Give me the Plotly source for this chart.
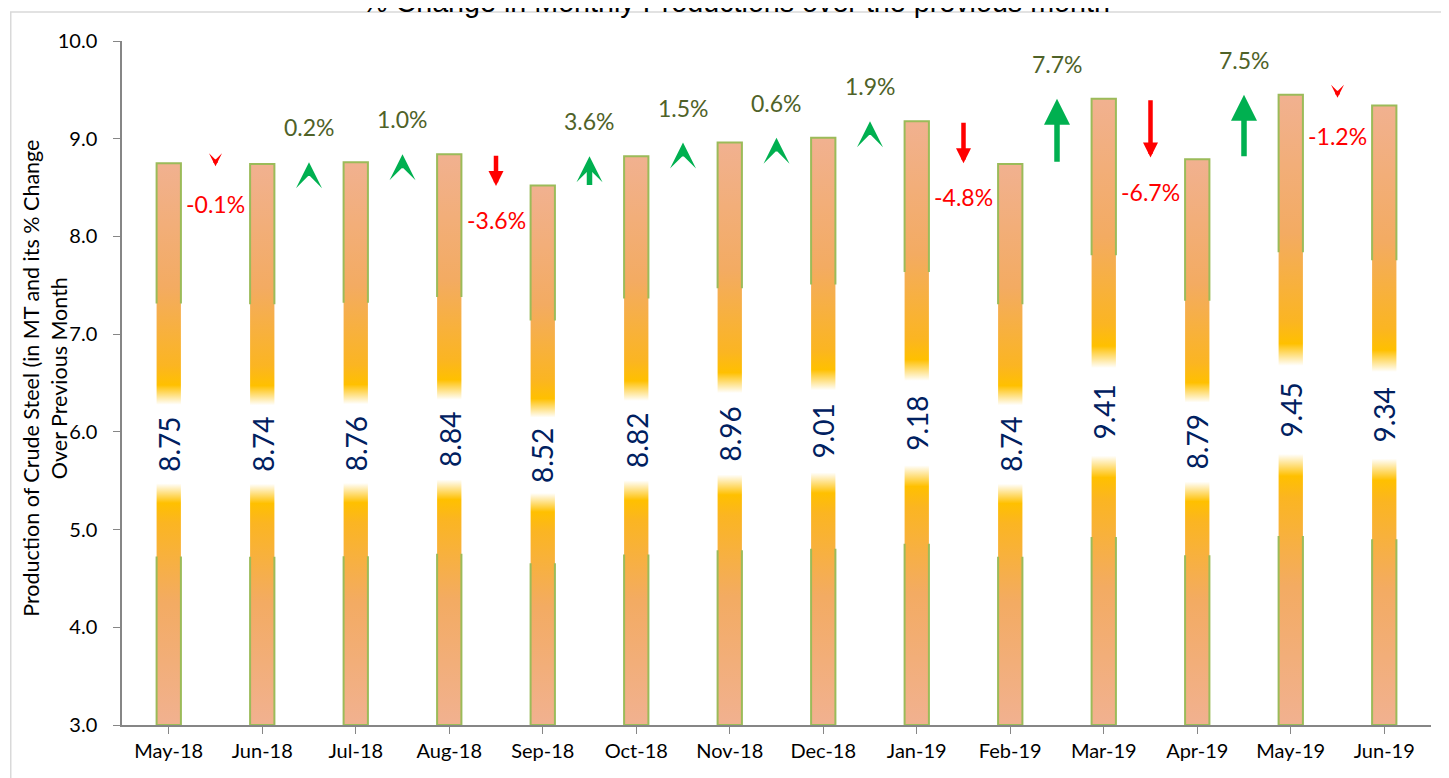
import plotly.graph_objects as go

months = ["May-18", "Jun-18", "Jul-18", "Aug-18", "Sep-18", "Oct-18", "Nov-18",
          "Dec-18", "Jan-19", "Feb-19", "Mar-19", "Apr-19", "May-19", "Jun-19"]
production = [8.75, 8.74, 8.76, 8.84, 8.52, 8.82, 8.96, 9.01, 9.18, 8.74, 9.41, 8.79, 9.45, 9.34]
pct_change = [-0.1, 0.2, 1.0, -3.6, 3.6, 1.5, 0.6, 1.9, -4.8, 7.7, -6.7, 7.5, -1.2]

Y0 = 3.0
HALF_W = 0.13
FONT = "Lato, Open Sans, sans-serif"
BAR_SCALE = [
    [0.0, "#F1B190"], [0.22, "#F3AB62"], [0.36, "#FBB522"], [0.395, "#FFC000"],
    [0.43, "#FFFFFF"], [0.57, "#FFFFFF"], [0.605, "#FFC000"], [0.64, "#FBB522"],
    [0.78, "#F3AB62"], [1.0, "#F1B190"],
]


def add_arrow(fig, x, y, y_shift, length, color, width, head_w, head_style):
    # head_style 2: plain triangle (5 units wide), 3: barbed (6 units wide)
    units = 5.0 if head_style == 2 else 6.0
    scale = head_w / units
    head_len = scale * units
    tail = length if length > head_len + 4 else head_len * 0.5
    sign = 1 if y_shift == 0 else -1
    fig.add_annotation(
        x=x, y=y, yshift=y_shift, ax=0, ay=sign * tail, text="", showarrow=True,
        arrowhead=head_style, arrowwidth=width, arrowsize=scale / width,
        arrowcolor=color, standoff=0,
    )


fig = go.Figure()

for i, v in enumerate(production):
    h = v - Y0
    # gradient-filled bar body
    fig.add_trace(go.Scatter(
        x=[i - HALF_W, i + HALF_W, i + HALF_W, i - HALF_W, i - HALF_W],
        y=[Y0, Y0, v, v, Y0],
        mode="lines", line=dict(width=0), fill="toself",
        fillgradient=dict(type="vertical", colorscale=BAR_SCALE, start=Y0, stop=v),
        hoverinfo="skip", showlegend=False,
    ))
    # green outline, only on the outer parts of the bar
    fig.add_trace(go.Scatter(
        x=[i - HALF_W, i - HALF_W, i + HALF_W, i + HALF_W, None,
           i - HALF_W, i - HALF_W, i + HALF_W, i + HALF_W],
        y=[Y0 + 0.75 * h, v, v, Y0 + 0.75 * h, None,
           Y0 + 0.3 * h, Y0, Y0, Y0 + 0.3 * h],
        mode="lines", line=dict(color="#9BBB59", width=2),
        hoverinfo="skip", showlegend=False,
    ))
    fig.add_annotation(
        x=i, y=(Y0 + v) / 2, text=f"{v:.2f}", textangle=-90, showarrow=False,
        font=dict(family=FONT, size=28, color="#002060"),
    )

for k, p in enumerate(pct_change):
    xpos = k + 0.5
    top = max(production[k], production[k + 1])
    if p >= 0:
        length = max(24, 8.4 * p)
        add_arrow(fig, xpos, top, 0, length, "#00B050", 5.5, 26, 2 if length > 40 else 3)
        fig.add_annotation(
            x=xpos, y=top, yshift=35, text=f"{p:.1f}%", showarrow=False,
            font=dict(family=FONT, size=23, color="#4F6228"),
        )
    else:
        length = max(13, 8.8 * abs(p))
        tiny = length <= 20
        add_arrow(fig, xpos, top, -length + (10 if tiny else 0), length, "#FF0000", 4.5,
                  13 if tiny else 15, 3 if tiny else 2)
        fig.add_annotation(
            x=xpos, y=top, yshift=-length - 34 + (6 if tiny else 0), text=f"{p:.1f}%",
            showarrow=False, font=dict(family=FONT, size=23, color="#FF0000"),
        )

# title, mostly above the visible area as in the reference
fig.add_annotation(
    x=0.469, y=1.0, xref="paper", yref="paper", yanchor="bottom", yshift=21,
    text="% Change in Monthly Productions over the previous month", showarrow=False,
    font=dict(family="Liberation Sans, Arial, sans-serif", size=28.7, color="#000000"),
)
# y axis title
fig.add_annotation(
    x=-0.0584, y=0.507, xref="paper", yref="paper", xanchor="center", yanchor="middle",
    textangle=-90, showarrow=False,
    text="Production of Crude Steel (in MT and its % Change<br>Over Previous Month",
    font=dict(family=FONT, size=21.5, color="#000000"),
)
# outer chart border
fig.add_shape(type="rect", xref="paper", yref="paper", x0=-0.085, x1=1.05, y0=-0.2, y1=1.0424,
              line=dict(color="#D9D9D9", width=1.5), layer="below")

fig.update_layout(
    width=1441, height=770,
    margin=dict(l=114, r=18, t=33, b=53),
    plot_bgcolor="white", paper_bgcolor="white",
    xaxis=dict(range=[-0.5, 13.5], tickvals=list(range(len(months))), ticktext=months,
               showgrid=False, zeroline=False, showline=True, linecolor="#868686", linewidth=1.5,
               ticks="outside", ticklen=7, tickcolor="#868686",
               tickfont=dict(family=FONT, size=20, color="#000000")),
    yaxis=dict(range=[3, 10], dtick=1, tickformat=".1f",
               showgrid=False, zeroline=False, showline=True, linecolor="#868686", linewidth=1.5,
               ticks="outside", ticklen=7, tickcolor="#868686", ticklabelstandoff=12,
               tickfont=dict(family=FONT, size=20, color="#000000")),
)

fig.write_html("out.html")
